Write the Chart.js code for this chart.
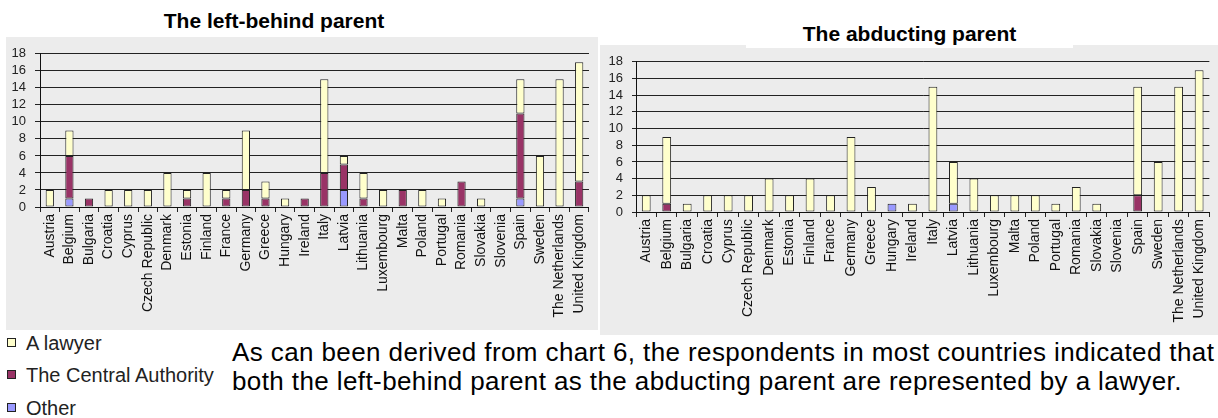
<!DOCTYPE html>
<html>
<head>
<meta charset="utf-8">
<script src="https://cdn.jsdelivr.net/npm/chart.js@4.4.1/dist/chart.umd.min.js"></script>
<style>
  html, body { margin: 0; padding: 0; background: #fff; width: 1218px; height: 418px; overflow: hidden; font-family: "Liberation Sans", Arial, sans-serif; }
  .panel { position: absolute; background: #ececec; }
  .panel canvas { position: absolute; left: 0; top: 0; }
  .title { position: absolute; font-weight: bold; font-size: 21px; color: #000; text-align: center; background: #fff; }
  .legend { position: absolute; left: 7px; font-size: 20px; color: #222; line-height: 20px; white-space: nowrap; }
  .legend .sw { display: inline-block; width: 7px; height: 7px; border: 1px solid #222; margin-right: 10px; vertical-align: 3px; }
  .para { position: absolute; left: 232px; top: 338px; font-size: 26px; letter-spacing: 0.4px; line-height: 28.5px; color: #000; white-space: nowrap; }
</style>
</head>
<body>
<div class="title" style="left:149px; top:7px; width:250px; height:28px; line-height:28px;">The left-behind parent</div>
<div class="panel" style="left:6px; top:37px; width:592px; height:293px;"><canvas id="c1" width="592" height="293"></canvas></div>
<div class="panel" style="left:600px; top:45px; width:618px; height:290px;"><canvas id="c2" width="618" height="290"></canvas></div>
<div class="title" style="left:746px; top:20px; width:327px; height:28px; line-height:28px;">The abducting parent</div>

<div class="legend" style="top:333px;"><span class="sw" style="background:#FFFFCC"></span>A lawyer</div>
<div class="legend" style="top:365px;"><span class="sw" style="background:#993366"></span>The Central Authority</div>
<div class="legend" style="top:398px;"><span class="sw" style="background:#9999FF"></span>Other</div>

<div class="para">As can been derived from chart 6, the respondents in most countries indicated that<br>both the left-behind parent as the abducting parent are represented by a lawyer.</div>

<script>
const countries = ["Austria","Belgium","Bulgaria","Croatia","Cyprus","Czech Republic","Denmark","Estonia","Finland","France","Germany","Greece","Hungary","Ireland","Italy","Latvia","Lithuania","Luxembourg","Malta","Poland","Portugal","Romania","Slovakia","Slovenia","Spain","Sweden","The Netherlands","United Kingdom"];
const seriesNames = ["A lawyer", "The Central Authority", "Other"];
const yTicks = [0, 2, 4, 6, 8, 10, 12, 14, 16, 18];

// The left-behind parent
const leftLawyer  = [2,3,0,2,2,2,4,1,4,1,7,2,1,0,11,1,3,2,0,2,1,0,1,0,4,6,15,14];
const leftCentral = [0,5,1,0,0,0,0,1,0,1,2,1,0,1,4,3,1,0,2,0,0,3,0,0,10,0,0,3];
const leftOther   = [0,1,0,0,0,0,0,0,0,0,0,0,0,0,0,2,0,0,0,0,0,0,0,0,1,0,0,0];

// The abducting parent
const rightLawyer  = [2,8,1,2,2,2,4,2,4,2,9,3,0,1,15,5,4,2,2,2,1,3,1,0,13,6,15,17];
const rightCentral = [0,1,0,0,0,0,0,0,0,0,0,0,0,0,0,0,0,0,0,0,0,0,0,0,2,0,0,0];
const rightOther   = [0,0,0,0,0,0,0,0,0,0,0,0,1,0,0,1,0,0,0,0,0,0,0,0,0,0,0,0];

const colors = { lawyer: "#FFFFCC", central: "#993366", other: "#9999FF" };

function nz(arr) { return arr.map(v => v === 0 ? null : v); }

function makeChart(id, other, central, lawyer, geo) {
  const ds = (label, data, color) => ({
    label, data: nz(data), backgroundColor: color, borderColor: "#222",
    borderWidth: 1, borderSkipped: false, categoryPercentage: 1, barPercentage: geo.barPct
  });
  return new Chart(document.getElementById(id), {
    type: "bar",
    data: {
      labels: countries,
      datasets: [
        ds(seriesNames[2], other, colors.other),
        ds(seriesNames[1], central, colors.central),
        ds(seriesNames[0], lawyer, colors.lawyer)
      ]
    },
    options: {
      responsive: false,
      animation: false,
      layout: { padding: { top: geo.top, right: geo.right, left: 0, bottom: 0 } },
      plugins: { legend: { display: false }, tooltip: { enabled: false }, title: { display: false } },
      scales: {
        x: {
          stacked: true,
          offset: true,
          grid: { display: true, drawOnChartArea: false, drawTicks: true, tickLength: 5, color: "#222", offset: true },
          border: { display: true, color: "#111", width: 1 },
          ticks: { autoSkip: false, maxRotation: 90, minRotation: 90, padding: 2, color: "#111",
                   font: { family: "Liberation Sans", size: 14 } },
          afterFit: s => { s.height = geo.xh; }
        },
        y: {
          stacked: true,
          min: 0, max: 18,
          afterBuildTicks: s => { s.ticks = yTicks.map(v => ({ value: v })); },
          grid: { color: "#222", lineWidth: 1, drawTicks: true, tickLength: geo.tl },
          border: { display: true, color: "#111", width: 1 },
          ticks: { autoSkip: false, stepSize: 2, padding: geo.pad, color: "#222", font: { family: "Liberation Sans", size: 13 } },
          afterFit: s => { s.width = geo.yw; }
        }
      }
    }
  });
}

makeChart("c1", leftOther, leftCentral, leftLawyer, { top: 11, right: 1, xh: 123, yw: 34, tl: 5, pad: 9, barPct: 0.42 });
makeChart("c2", rightOther, rightCentral, rightLawyer, { top: 15, right: 4, xh: 123, yw: 36, tl: 4, pad: 9, barPct: 0.43 });
</script>
</body>
</html>
